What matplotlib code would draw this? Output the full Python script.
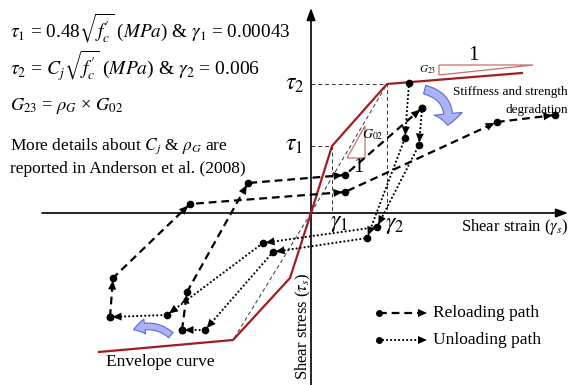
import numpy as np
import matplotlib
matplotlib.use("Agg")
import matplotlib.pyplot as plt
from matplotlib.patches import Polygon, FancyArrowPatch

plt.rcParams["font.family"] = ["Liberation Serif", "DejaVu Serif"]
plt.rcParams["mathtext.fontset"] = "stix"

# backbone (envelope) curve; strain / stress in drawing units, origin at axes crossing
env_strain = [-212, -78, -21, 0, 21, 76, 211]
env_stress = [-139, -127, -65, 0, 67, 129, 140]

# characteristic points of the backbone
gamma1, tau1 = 21, 67
gamma2, tau2 = 76, 129
neg_gamma2, neg_tau2 = -78, -127

# first cycle
unload1_strain = [98, 94, 56, -38, -106, -129]
unload1_stress = [130, 75, -25, -39, -117, -117]
reload1_strain = [-129, -124, -63, 34, 111]
reload1_stress = [-117, -79, 30, 38, 105]

# second cycle (degraded)
unload2_strain = [111, 108, 66, -48, -144, -201]
unload2_stress = [105, 68, -14, -30, -102, -104]
reload2_strain = [-201, -198, -121, 34, 186, 244]
reload2_stress = [-104, -65, 9, 21, 91, 98]

# slope triangles
g02_tri_x = [36, 54, 54]
g02_tri_y = [55, 55, 87]
g23_tri_x = [128, 222, 128]
g23_tri_y = [148, 148, 138]

RED = "#a11d22"
PINK = "#c8706f"
BLUE_FILL = "#aab3f3"
BLUE_EDGE = "#5d6bd2"

DASHED = (0, (3.5, 2.2))
DOTTED = (0, (0.01, 1.8))
THIN = (0, (4, 3))

fig = plt.figure(figsize=(5.71, 3.85), dpi=100)
ax = fig.add_axes([0, 0, 1, 1])
ax.set_xlim(-311, 260)
ax.set_ylim(-172, 213)
ax.axis("off")


def arrow_head(x0, y0, x1, y1, length=9.0, half=4.0, gap=2.5):
    d = np.array([x1 - x0, y1 - y0], dtype=float)
    d /= np.hypot(*d)
    n = np.array([-d[1], d[0]])
    tip = np.array([x1, y1]) - gap * d
    base = tip - length * d
    ax.add_patch(Polygon([tip, base + half * n, base - half * n],
                         closed=True, color="black", lw=0, zorder=6))


def draw_path(xs, ys, ls, cap):
    ax.plot(xs, ys, color="black", lw=1.6, linestyle=ls,
            dash_capstyle=cap, zorder=4)
    ax.plot(xs, ys, "o", color="black", ms=5.5, mew=0, zorder=5)
    for i in range(1, len(xs)):
        arrow_head(xs[i - 1], ys[i - 1], xs[i], ys[i])


# axes with arrowheads
axis_style = dict(arrowstyle="-|>,head_length=0.6,head_width=0.22", lw=1.2,
                  color="black", mutation_scale=12, shrinkA=0, shrinkB=0)
ax.annotate("", xy=(0, 205), xytext=(0, -172), arrowprops=axis_style)
ax.annotate("", xy=(257, 0), xytext=(-269, 0), arrowprops=axis_style)

# reference lines to the characteristic points and secant stiffness lines
ref = dict(color="#333333", lw=0.7, linestyle=THIN, zorder=2)
ax.plot([0, gamma2, gamma2], [tau2, tau2, 0], **ref)
ax.plot([0, gamma1, gamma1], [tau1, tau1, 0], **ref)
ax.plot([0, gamma2], [0, tau2], **ref)
ax.plot([0, neg_gamma2], [0, neg_tau2], **ref)

# envelope
ax.plot(env_strain, env_stress, color=RED, lw=1.6, zorder=3)

# slope triangles
ax.add_patch(Polygon(np.column_stack([g02_tri_x, g02_tri_y]), closed=True,
                     fill=False, ec=PINK, lw=0.9, zorder=3))
ax.add_patch(Polygon(np.column_stack([g23_tri_x, g23_tri_y]), closed=True,
                     fill=False, ec=PINK, lw=0.9, zorder=3))
ax.text(62, 78, r"$G_{02}$", fontsize=10, ha="center", va="center", zorder=7)
ax.text(47, 45, "1", fontsize=15, ha="center", va="center")
ax.text(117, 143, r"$G_{23}$", fontsize=8, ha="center", va="center")
ax.text(162, 157, "1", fontsize=15, ha="center", va="center")

# hysteresis paths
draw_path(unload1_strain, unload1_stress, DOTTED, "round")
draw_path(reload1_strain, reload1_stress, DASHED, "butt")
draw_path(unload2_strain, unload2_stress, DOTTED, "round")
draw_path(reload2_strain, reload2_stress, DASHED, "butt")

# degradation arrows
ax.add_patch(FancyArrowPatch(
    (111, 124), (136, 85), connectionstyle="arc3,rad=-0.5",
    arrowstyle="simple,head_length=0.55,head_width=1.35,tail_width=0.42",
    mutation_scale=15, fc=BLUE_FILL, ec=BLUE_EDGE, lw=0.8, zorder=6))
ax.add_patch(FancyArrowPatch(
    (-138, -124), (-180, -118), connectionstyle="arc3,rad=0.35",
    arrowstyle="simple,head_length=0.7,head_width=0.9,tail_width=0.4",
    mutation_scale=12, fc=BLUE_FILL, ec=BLUE_EDGE, lw=0.8, zorder=6))

# axis labels and point labels
ax.text(-16, 128, r"$\tau_2$", fontsize=17, ha="center", va="center")
ax.text(-17, 67, r"$\tau_1$", fontsize=17, ha="center", va="center")
ax.text(28, -11, r"$\gamma_1$", fontsize=17, ha="center", va="center")
ax.text(84, -13, r"$\gamma_2$", fontsize=17, ha="center", va="center")
ax.text(150, -14, r"Shear strain ($\gamma_s$)", fontsize=12,
        ha="left", va="center")
ax.text(-8, -113, r"Shear stress ($\tau_s$)", fontsize=12, rotation=90,
        ha="center", va="center")
ax.text(-205, -149, "Envelope curve", fontsize=12.5, ha="left", va="center")
ax.text(257, 121, "Stiffness and strength", fontsize=9.5, ha="right", va="center")
ax.text(257, 103, "degradation", fontsize=9.5, ha="right", va="center")

# model parameters
ax.text(-301, 175,
        r"$\tau_1$ = 0.48$\sqrt{f^{\prime}_{c}}$ ($MPa$) & $\gamma_1$ = 0.00043",
        fontsize=13.8, ha="left", va="baseline")
ax.text(-301, 138,
        r"$\tau_2$ = $C_j\sqrt{f^{\prime}_{c}}$ ($MPa$) & $\gamma_2$ = 0.006",
        fontsize=14, ha="left", va="baseline")
ax.text(-301, 103, r"$G_{23}$ = $\rho_G$ × $G_{02}$",
        fontsize=13.2, ha="left", va="baseline")
ax.text(-301, 63, r"More details about $C_j$ & $\rho_G$ are",
        fontsize=12.5, ha="left", va="baseline")
ax.text(-301, 40, "reported in Anderson et al. (2008)",
        fontsize=12.5, ha="left", va="baseline")

# legend
for y, ls, cap, label in [(-100, DASHED, "butt", "Reloading path"),
                          (-127, DOTTED, "round", "Unloading path")]:
    ax.plot([68, 108], [y, y], color="black", lw=1.6, linestyle=ls,
            dash_capstyle=cap)
    ax.plot([68], [y], "o", color="black", ms=5, mew=0)
    arrow_head(68, y, 116, y, gap=0)
    ax.text(122, y, label, fontsize=12.5, ha="left", va="center")

fig.savefig("out.png", dpi=100)
